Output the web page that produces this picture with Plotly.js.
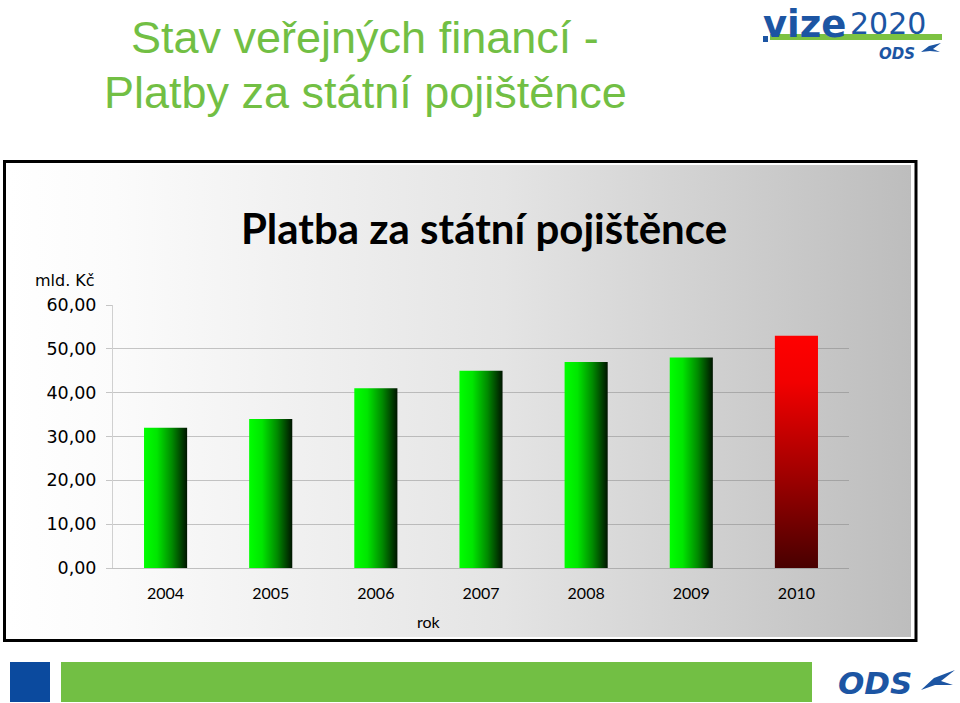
<!DOCTYPE html>
<html>
<head>
<meta charset="utf-8">
<script src="https://cdn.plot.ly/plotly-3.0.1.min.js"></script>
<style>
  html, body { margin: 0; padding: 0; background: #ffffff; }
  #chart { width: 960px; height: 703px; }
</style>
</head>
<body>
<div id="chart"></div>
<script>
// ---- data ----
const years = ['2004', '2005', '2006', '2007', '2008', '2009', '2010'];
const values = [32, 34, 41, 45, 47, 48, 53];
const yTickValues = [0, 10, 20, 30, 40, 50, 60];
const chartTitle = 'Platba za státní pojištěnce';
const slideTitleLines = ['Stav veřejných financí -', 'Platby za státní pojištěnce'];
const yUnit = 'mld. Kč';
const xLabel = 'rok';

// ---- layout geometry ----
const W = 960, H = 703;
const M = { l: 113, r: 111, t: 305, b: 135 };
const PW = W - M.l - M.r, PH = H - M.t - M.b;
const X = px => (px - M.l) / PW;
const Y = py => (H - M.b - py) / PH;

const GREEN = '#72bf44', LOGOBLUE = '#1c55a3';

const bgSvg = '<svg xmlns="http://www.w3.org/2000/svg" width="100" height="100" preserveAspectRatio="none">' +
  '<defs><linearGradient id="g" x1="0" x2="1" y1="0" y2="0">' +
  '<stop offset="0" stop-color="#ffffff"/><stop offset="0.12" stop-color="#fbfbfb"/>' +
  '<stop offset="0.55" stop-color="#e4e4e4"/><stop offset="1" stop-color="#bdbdbd"/>' +
  '</linearGradient></defs><rect width="100" height="100" fill="url(#g)"/></svg>';

function pathFromPx(pts) {
  return 'M ' + pts.map(p => X(p[0]).toFixed(5) + ' ' + Y(p[1]).toFixed(5)).join(' L ') + ' Z';
}

const birdSmall = [[921,52],[929,46],[941,43],[933,49],[940,52],[930,51]];
const birdBig = [[921,690],[934,678],[955,670],[941,681],[953,685],[935,685]];

const trace = {
  type: 'bar',
  x: years,
  y: values,
  width: 0.41,
  marker: { color: years.map((y, i) => i === years.length - 1 ? '#d00000' : '#00c000'), line: { width: 0 } },
  hoverinfo: 'x+y'
};

const layout = {
  width: W, height: H,
  margin: M,
  paper_bgcolor: '#ffffff',
  plot_bgcolor: 'rgba(0,0,0,0)',
  separators: ', ',
  showlegend: false,
  title: {
    text: chartTitle,
    font: { family: 'Lato', size: 42, color: '#000000', weight: 'bold' },
    xref: 'container', yref: 'container',
    x: 484 / W, y: 1 - 229 / H, xanchor: 'center', yanchor: 'middle'
  },
  xaxis: {
    type: 'category',
    showgrid: false,
    showline: true, linecolor: 'rgba(110,110,110,0.4)', linewidth: 1,
    ticks: '',
    ticklabelstandoff: 11,
    tickfont: { family: 'Lato', size: 16, color: '#000000' },
    fixedrange: true
  },
  yaxis: {
    range: [0, 60],
    tickvals: yTickValues,
    tickformat: '.2f',
    showgrid: true, gridcolor: 'rgba(110,110,110,0.38)', gridwidth: 1,
    showline: true, linecolor: 'rgba(110,110,110,0.3)', linewidth: 1,
    zeroline: false,
    ticks: 'outside', ticklen: 6, tickcolor: 'rgba(110,110,110,0.38)',
    ticklabelstandoff: 6,
    tickfont: { family: 'DejaVu Sans', size: 17.5, color: '#000000' },
    fixedrange: true
  },
  images: [{
    source: 'data:image/svg+xml;charset=utf-8,' + encodeURIComponent(bgSvg),
    xref: 'paper', yref: 'paper',
    x: X(8), y: Y(165), sizex: X(911) - X(8), sizey: Y(165) - Y(637),
    xanchor: 'left', yanchor: 'top', sizing: 'stretch', layer: 'below'
  }],
  shapes: [
    { type: 'rect', xref: 'paper', yref: 'paper', x0: X(4.5), x1: X(916), y0: Y(161.5), y1: Y(640.5),
      line: { color: '#000000', width: 3 }, fillcolor: 'rgba(0,0,0,0)', layer: 'below' },
    { type: 'rect', xref: 'paper', yref: 'paper', x0: X(10), x1: X(50), y0: Y(662), y1: Y(702),
      line: { width: 0 }, fillcolor: '#0b4a9e' },
    { type: 'rect', xref: 'paper', yref: 'paper', x0: X(61), x1: X(812), y0: Y(662), y1: Y(702),
      line: { width: 0 }, fillcolor: GREEN },
    // top-right logo bar
    { type: 'rect', xref: 'paper', yref: 'paper', x0: X(770), x1: X(942), y0: Y(34), y1: Y(40),
      line: { width: 0 }, fillcolor: '#7cc242' },
    { type: 'rect', xref: 'paper', yref: 'paper', x0: X(763), x1: X(768), y0: Y(36), y1: Y(42),
      line: { width: 0 }, fillcolor: LOGOBLUE },
    { type: 'path', xref: 'paper', yref: 'paper', path: pathFromPx(birdSmall),
      line: { width: 0 }, fillcolor: LOGOBLUE },
    { type: 'path', xref: 'paper', yref: 'paper', path: pathFromPx(birdBig),
      line: { width: 0 }, fillcolor: LOGOBLUE }
  ],
  annotations: [
    { text: slideTitleLines[0], xref: 'paper', yref: 'paper', x: X(365), y: Y(37),
      xanchor: 'center', yanchor: 'middle', showarrow: false,
      font: { family: 'Liberation Sans', size: 45, color: GREEN } },
    { text: slideTitleLines[1], xref: 'paper', yref: 'paper', x: X(365), y: Y(92),
      xanchor: 'center', yanchor: 'middle', showarrow: false,
      font: { family: 'Liberation Sans', size: 45, color: GREEN } },
    { text: yUnit, xref: 'paper', yref: 'paper', x: X(97), y: Y(280),
      xanchor: 'right', yanchor: 'middle', showarrow: false,
      font: { family: 'DejaVu Sans', size: 16, color: '#000000' } },
    { text: xLabel, xref: 'paper', yref: 'paper', x: X(429), y: Y(621),
      xanchor: 'center', yanchor: 'middle', showarrow: false,
      font: { family: 'Lato', size: 16, color: '#000000' } },
    { text: '<b>vize</b>', xref: 'paper', yref: 'paper', x: X(761), y: Y(24),
      xanchor: 'left', yanchor: 'middle', showarrow: false,
      font: { family: 'DejaVu Sans', size: 37, color: LOGOBLUE } },
    { text: '2020', xref: 'paper', yref: 'paper', x: X(848), y: Y(23),
      xanchor: 'left', yanchor: 'middle', showarrow: false,
      font: { family: 'DejaVu Sans', size: 30, color: LOGOBLUE } },
    { text: '<b><i>ODS</i></b>', xref: 'paper', yref: 'paper', x: X(917), y: Y(54),
      xanchor: 'right', yanchor: 'middle', showarrow: false,
      font: { family: 'DejaVu Sans', size: 15, color: LOGOBLUE } },
    { text: '<b><i>ODS</i></b>', xref: 'paper', yref: 'paper', x: X(914), y: Y(683),
      xanchor: 'right', yanchor: 'middle', showarrow: false,
      font: { family: 'DejaVu Sans', size: 31, color: LOGOBLUE } }
  ]
};

function applyBarGradients() {
  const svg = document.querySelector('#chart .main-svg');
  const ns = 'http://www.w3.org/2000/svg';
  let defs = svg.querySelector('defs');
  if (!defs) { defs = document.createElementNS(ns, 'defs'); svg.insertBefore(defs, svg.firstChild); }
  function grad(id, horizontal, stops) {
    const g = document.createElementNS(ns, 'linearGradient');
    g.setAttribute('id', id);
    g.setAttribute('x1', '0'); g.setAttribute('y1', '0');
    g.setAttribute('x2', horizontal ? '1' : '0'); g.setAttribute('y2', horizontal ? '0' : '1');
    stops.forEach(s => {
      const st = document.createElementNS(ns, 'stop');
      st.setAttribute('offset', s[0]); st.setAttribute('stop-color', s[1]);
      g.appendChild(st);
    });
    defs.appendChild(g);
  }
  grad('barGreen', true, [[0, '#00ff00'], [0.3, '#00e600'], [0.65, '#008a00'], [1, '#001400']]);
  grad('barRed', false, [[0, '#ff0000'], [0.2, '#f20000'], [0.6, '#a00000'], [1, '#480000']]);
  const paths = document.querySelectorAll('#chart .trace.bars .point path');
  paths.forEach((p, i) => {
    p.style.fill = (i === paths.length - 1) ? 'url(#barRed)' : 'url(#barGreen)';
    p.style.fillOpacity = 1;
  });
}

Plotly.newPlot('chart', [trace], layout, { displayModeBar: false, staticPlot: true })
  .then(applyBarGradients);
</script>
</body>
</html>
